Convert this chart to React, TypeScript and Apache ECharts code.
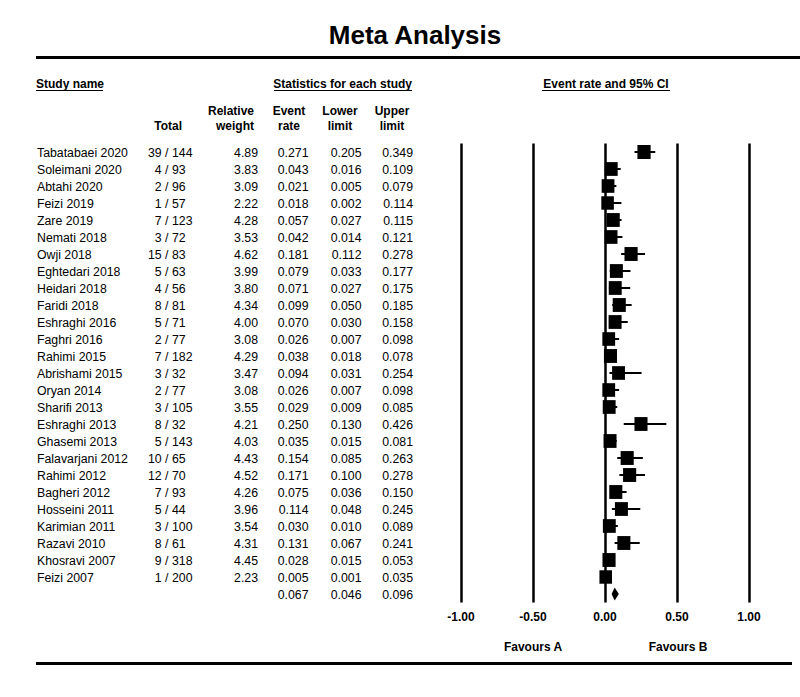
import React, { useEffect, useRef } from "react";
import * as echarts from "echarts";

const studyNames = [
  "Tabatabaei 2020", "Soleimani 2020", "Abtahi 2020", "Feizi 2019", "Zare 2019",
  "Nemati 2018", "Owji 2018", "Eghtedari 2018", "Heidari 2018", "Faridi 2018",
  "Eshraghi 2016", "Faghri 2016", "Rahimi 2015", "Abrishami 2015", "Oryan 2014",
  "Sharifi 2013", "Eshraghi 2013", "Ghasemi 2013", "Falavarjani 2012", "Rahimi 2012",
  "Bagheri 2012", "Hosseini 2011", "Karimian 2011", "Razavi 2010", "Khosravi 2007",
  "Feizi 2007",
];
const events = [39, 4, 2, 1, 7, 3, 15, 5, 4, 8, 5, 2, 7, 3, 2, 3, 8, 5, 10, 12, 7, 5, 3, 8, 9, 1];
const totals = [144, 93, 96, 57, 123, 72, 83, 63, 56, 81, 71, 77, 182, 32, 77, 105, 32, 143, 65, 70, 93, 44, 100, 61, 318, 200];
const weights = [4.89, 3.83, 3.09, 2.22, 4.28, 3.53, 4.62, 3.99, 3.80, 4.34, 4.00, 3.08, 4.29, 3.47, 3.08, 3.55, 4.21, 4.03, 4.43, 4.52, 4.26, 3.96, 3.54, 4.31, 4.45, 2.23];
const eventRates = [0.271, 0.043, 0.021, 0.018, 0.057, 0.042, 0.181, 0.079, 0.071, 0.099, 0.070, 0.026, 0.038, 0.094, 0.026, 0.029, 0.250, 0.035, 0.154, 0.171, 0.075, 0.114, 0.030, 0.131, 0.028, 0.005];
const lowerLimits = [0.205, 0.016, 0.005, 0.002, 0.027, 0.014, 0.112, 0.033, 0.027, 0.050, 0.030, 0.007, 0.018, 0.031, 0.007, 0.009, 0.130, 0.015, 0.085, 0.100, 0.036, 0.048, 0.010, 0.067, 0.015, 0.001];
const upperLimits = [0.349, 0.109, 0.079, 0.114, 0.115, 0.121, 0.278, 0.177, 0.175, 0.185, 0.158, 0.098, 0.078, 0.254, 0.098, 0.085, 0.426, 0.081, 0.263, 0.278, 0.150, 0.245, 0.089, 0.241, 0.053, 0.035];
const summaryRate = 0.067;
const summaryLower = 0.046;
const summaryUpper = 0.096;
const xTickMin = -1;
const xTickMax = 1;
const xTickStep = 0.5;

const FONT = "'Liberation Sans', Arial, Helvetica, sans-serif";
const BODY_SIZE = 12.3;

export default function App() {
  const ref = useRef<HTMLDivElement>(null);

  useEffect(() => {
    document.body.style.margin = "0";
    if (!ref.current) return;
    const chart = echarts.init(ref.current, undefined, { renderer: "svg" });
    const n = studyNames.length;
    const summaryIndex = n;

    const txt = (text: string, x: number, y: number, align: string, bold = false, size = 12) => ({
      type: "text",
      style: {
        text,
        x,
        y,
        fill: "#000",
        fontSize: size,
        fontFamily: FONT,
        fontWeight: bold ? "bold" : "normal",
        align,
        verticalAlign: "middle",
      },
    });

    const hline = (x1: number, x2: number, y: number, w: number) => ({
      type: "line",
      shape: { x1, y1: y, x2, y2: y },
      style: { stroke: "#000", lineWidth: w },
    });

    const graphic: any[] = [
      txt("Meta Analysis", 415, 35, "center", true, 26),
      hline(36, 800, 57.5, 3),
      txt("Study name", 36, 84, "left", true),
      hline(36, 103, 90.5, 1),
      txt("Statistics for each study", 412, 84, "right", true),
      hline(274, 412, 90.5, 1),
      txt("Event rate and 95% CI", 606, 84, "center", true),
      hline(542, 670, 90.5, 1),
      txt("Total", 182, 126, "right", true),
      txt("Relative", 254, 111, "right", true),
      txt("weight", 254, 126, "right", true),
      txt("Event", 289, 111, "center", true),
      txt("rate", 289, 126, "center", true),
      txt("Lower", 340, 111, "center", true),
      txt("limit", 340, 126, "center", true),
      txt("Upper", 392, 111, "center", true),
      txt("limit", 392, 126, "center", true),
      txt("Favours A", 533, 647, "center", true),
      txt("Favours B", 678, 647, "center", true),
      hline(36, 792, 663.5, 3),
    ];

    const rowIdx = Array.from({ length: n + 1 }, (_, i) => i);

    chart.setOption({
      animation: false,
      grid: { left: 461, top: 143.5, width: 288, height: 459, containLabel: false },
      xAxis: {
        type: "value",
        min: xTickMin,
        max: xTickMax,
        interval: xTickStep,
        axisLine: { show: false },
        axisTick: { show: false },
        splitLine: { show: true, lineStyle: { color: "#000", width: 2.5 } },
        axisLabel: {
          formatter: (v: number) => v.toFixed(2),
          color: "#000",
          fontWeight: "bold",
          fontSize: 12,
          fontFamily: FONT,
          margin: 8,
        },
      },
      yAxis: {
        type: "value",
        inverse: true,
        min: -0.5,
        max: n + 0.5,
        show: false,
      },
      graphic,
      series: [
        {
          type: "custom",
          silent: true,
          clip: false,
          data: rowIdx.map((i) => [0, i]),
          encode: { x: 0, y: 1 },
          renderItem: (params: any, api: any) => {
            const i = api.value(1);
            const y = api.coord([0, i])[1] + 1;
            const s = BODY_SIZE;
            const children: any[] = [];
            if (i < n) {
              children.push(txt(studyNames[i], 37, y, "left", false, s));
              children.push(txt(`${events[i]} /`, 168.5, y, "right", false, s));
              children.push(txt(`${totals[i]}`, 172, y, "left", false, s));
              children.push(txt(weights[i].toFixed(2), 258, y, "right", false, s));
              children.push(txt(eventRates[i].toFixed(3), 308.5, y, "right", false, s));
              children.push(txt(lowerLimits[i].toFixed(3), 361.5, y, "right", false, s));
              children.push(txt(upperLimits[i].toFixed(3), 413, y, "right", false, s));
            } else {
              children.push(txt(summaryRate.toFixed(3), 308.5, y, "right", false, s));
              children.push(txt(summaryLower.toFixed(3), 361.5, y, "right", false, s));
              children.push(txt(summaryUpper.toFixed(3), 413, y, "right", false, s));
            }
            return { type: "group", children };
          },
        },
        {
          type: "custom",
          silent: true,
          clip: false,
          data: studyNames.map((_, i) => [lowerLimits[i], upperLimits[i], i]),
          encode: { x: [0, 1], y: 2 },
          renderItem: (params: any, api: any) => {
            const p1 = api.coord([api.value(0), api.value(2)]);
            const p2 = api.coord([api.value(1), api.value(2)]);
            return {
              type: "line",
              shape: { x1: p1[0], y1: p1[1], x2: p2[0], y2: p2[1] },
              style: { stroke: "#000", lineWidth: 2 },
            };
          },
        },
        {
          type: "scatter",
          silent: true,
          symbol: "rect",
          itemStyle: { color: "#000", opacity: 1 },
          data: studyNames.map((_, i) => ({
            value: [eventRates[i], i],
            symbolSize: [12 + weights[i] * 0.25, 13 + weights[i] * 0.2],
          })),
        },
        {
          type: "custom",
          silent: true,
          clip: false,
          data: [[summaryLower, summaryRate, summaryUpper, summaryIndex]],
          encode: { x: [0, 1, 2], y: 3 },
          renderItem: (params: any, api: any) => {
            const yIdx = api.value(3);
            const l = api.coord([api.value(0), yIdx]);
            const m = api.coord([api.value(1), yIdx]);
            const u = api.coord([api.value(2), yIdx]);
            const h = 6.5;
            return {
              type: "polygon",
              shape: {
                points: [
                  [l[0], l[1]],
                  [m[0], m[1] - h],
                  [u[0], u[1]],
                  [m[0], m[1] + h],
                ],
              },
              style: { fill: "#000" },
            };
          },
        },
      ],
    });

    return () => chart.dispose();
  }, []);

  return <div ref={ref} style={{ width: 800, height: 697 }} />;
}
